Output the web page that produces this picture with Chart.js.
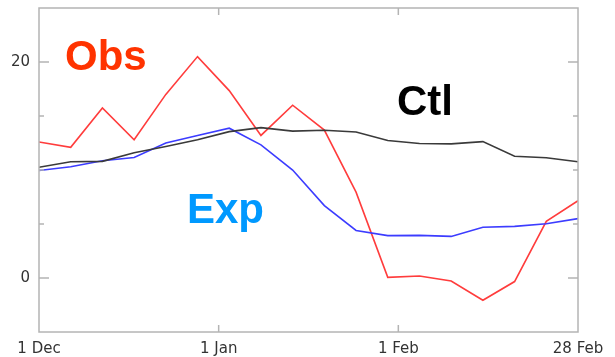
<!DOCTYPE html>
<html>
<head>
<meta charset="utf-8">
<script src="https://cdn.jsdelivr.net/npm/chart.js@4/dist/chart.umd.min.js"></script>
<style>
  html, body { margin: 0; padding: 0; background: #fff; }
  #wrap { position: relative; width: 615px; height: 357px; }
</style>
</head>
<body>
<div id="wrap"><canvas id="c" width="615" height="357"></canvas></div>
<script>
// Pentad index 0..17 spanning 1 Dec to 28 Feb
const pentads = [0,1,2,3,4,5,6,7,8,9,10,11,12,13,14,15,16,17];

const obs = [12.6, 12.1, 15.75, 12.8, 17.0, 20.5, 17.35, 13.2, 16.0, 13.7, 7.95, 0.06, 0.18, -0.28, -2.06, -0.33, 5.24, 7.16];
const ctl = [10.26, 10.76, 10.8, 11.6, 12.18, 12.8, 13.55, 13.92, 13.6, 13.68, 13.52, 12.73, 12.45, 12.42, 12.63, 11.28, 11.13, 10.76];
const exp = [9.95, 10.3, 10.85, 11.15, 12.5, 13.2, 13.87, 12.33, 10.0, 6.7, 4.4, 3.92, 3.95, 3.85, 4.7, 4.78, 5.03, 5.5];

// Month boundaries on the pentad axis and their labels
const xTickValues = [0, 17/3, 34/3, 17];
const xTickLabels = ['1 Dec', '1 Jan', '1 Feb', '28 Feb'];
const yTickValues = [0, 5, 10, 15, 20];
const yLabelled = [0, 20];

const pts = arr => arr.map((v, i) => ({ x: pentads[i], y: v }));

// Frame with inward tick marks on all four sides
const framePlugin = {
  id: 'frame',
  afterDatasetsDraw(chart) {
    const { ctx, chartArea: a, scales: { x, y } } = chart;
    ctx.save();
    ctx.strokeStyle = '#b4b4b4';
    ctx.lineWidth = 1.5;
    ctx.strokeRect(a.left, a.top, a.right - a.left, a.bottom - a.top);
    ctx.beginPath();
    yTickValues.forEach(v => {
      const py = y.getPixelForValue(v);
      const len = yLabelled.includes(v) ? 10 : 5;
      ctx.moveTo(a.left, py); ctx.lineTo(a.left + len, py);
      ctx.moveTo(a.right, py); ctx.lineTo(a.right - len, py);
    });
    xTickValues.slice(1, -1).forEach(v => {
      const px = x.getPixelForValue(v);
      ctx.moveTo(px, a.bottom); ctx.lineTo(px, a.bottom - 7);
      ctx.moveTo(px, a.top); ctx.lineTo(px, a.top + 7);
    });
    ctx.stroke();
    ctx.restore();
  }
};

// Series names written inside the plot next to their curves
const namePlugin = {
  id: 'names',
  afterDatasetsDraw(chart) {
    const { ctx } = chart;
    ctx.save();
    ctx.font = 'bold 42px "Liberation Sans", Arial, sans-serif';
    ctx.textBaseline = 'alphabetic';
    ctx.textAlign = 'left';
    ctx.fillStyle = '#ff3300'; ctx.fillText('Obs', 65, 70);
    ctx.fillStyle = '#000000'; ctx.fillText('Ctl', 397, 115);
    ctx.fillStyle = '#0099ff'; ctx.fillText('Exp', 187, 223);
    ctx.restore();
  }
};

const lineDs = (label, data, color) => ({
  label, data: pts(data), borderColor: color, borderWidth: 1.6,
  pointRadius: 0, tension: 0, fill: false
});

new Chart(document.getElementById('c'), {
  type: 'line',
  data: {
    datasets: [
      lineDs('Ctl', ctl, '#3a3a3a'),
      lineDs('Exp', exp, '#3c3cff'),
      lineDs('Obs', obs, '#ff3c3c')
    ]
  },
  options: {
    responsive: false,
    animation: false,
    layout: { padding: { top: 8, right: 37, left: 0, bottom: 0 } },
    plugins: { legend: { display: false }, tooltip: { enabled: false } },
    scales: {
      x: {
        type: 'linear', min: 0, max: 17,
        afterBuildTicks: s => { s.ticks = xTickValues.map(v => ({ value: v })); },
        afterFit: s => { s.height = 25; s.paddingLeft = 0; s.paddingRight = 0; },
        grid: { display: false, drawTicks: false },
        border: { display: false },
        ticks: {
          autoSkip: false, maxRotation: 0, padding: 8,
          color: '#333', font: { family: '"DejaVu Sans", sans-serif', size: 15 },
          callback: (v, i) => xTickLabels[i]
        }
      },
      y: {
        type: 'linear', min: -5, max: 25,
        afterBuildTicks: s => { s.ticks = yTickValues.map(v => ({ value: v })); },
        afterFit: s => { s.width = 39; s.paddingTop = 0; s.paddingBottom = 0; },
        grid: { display: false, drawTicks: false },
        border: { display: false },
        ticks: {
          padding: 9,
          color: '#333', font: { family: '"DejaVu Sans", sans-serif', size: 15 },
          callback: v => yLabelled.includes(v) ? String(v) : ''
        }
      }
    }
  },
  plugins: [framePlugin, namePlugin]
});
</script>
</body>
</html>
